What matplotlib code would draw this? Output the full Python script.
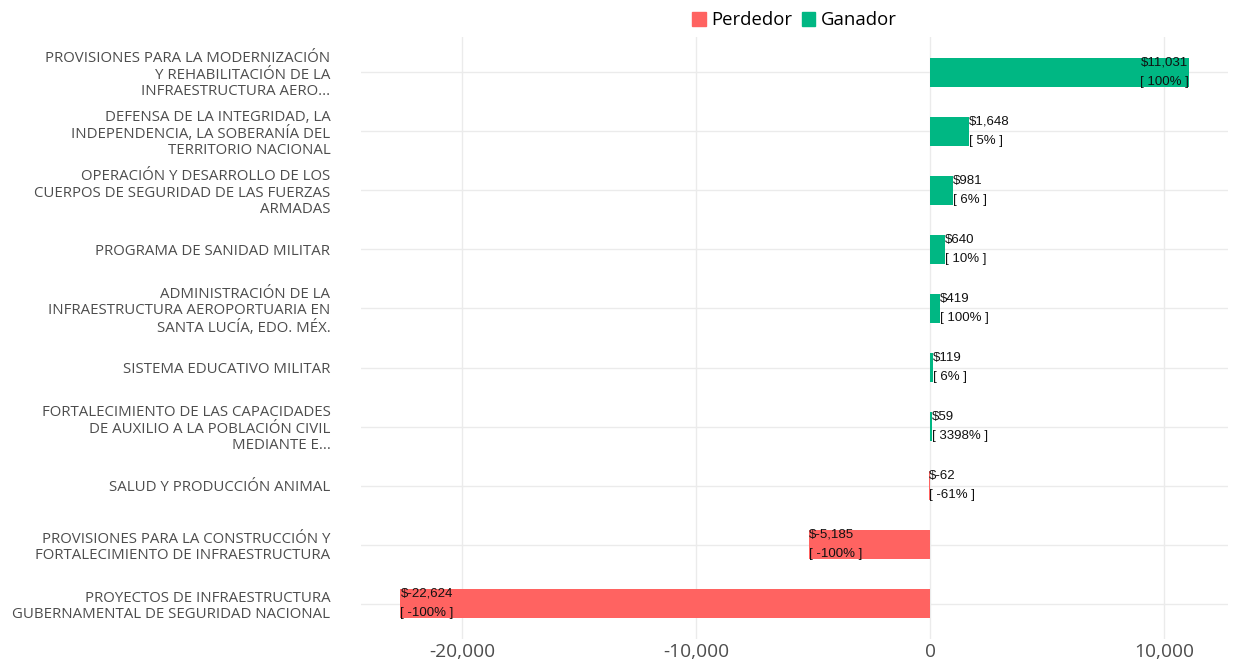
import numpy as np
import matplotlib.pyplot as plt
from matplotlib.patches import Patch

# programas, ordenados de arriba hacia abajo
programas = [
    "PROVISIONES PARA LA MODERNIZACIÓN\nY REHABILITACIÓN DE LA\nINFRAESTRUCTURA AERO...",
    "DEFENSA DE LA INTEGRIDAD, LA\nINDEPENDENCIA, LA SOBERANÍA DEL\nTERRITORIO NACIONAL",
    "OPERACIÓN Y DESARROLLO DE LOS\nCUERPOS DE SEGURIDAD DE LAS FUERZAS\nARMADAS",
    "PROGRAMA DE SANIDAD MILITAR",
    "ADMINISTRACIÓN DE LA\nINFRAESTRUCTURA AEROPORTUARIA EN\nSANTA LUCÍA, EDO. MÉX.",
    "SISTEMA EDUCATIVO MILITAR",
    "FORTALECIMIENTO DE LAS CAPACIDADES\nDE AUXILIO A LA POBLACIÓN CIVIL\nMEDIANTE E...",
    "SALUD Y PRODUCCIÓN ANIMAL",
    "PROVISIONES PARA LA CONSTRUCCIÓN Y\nFORTALECIMIENTO DE INFRAESTRUCTURA",
    "PROYECTOS DE INFRAESTRUCTURA\nGUBERNAMENTAL DE SEGURIDAD NACIONAL",
]
diferencia = [11031, 1648, 981, 640, 419, 119, 59, -62, -5185, -22624]
pct = [100, 5, 6, 10, 100, 6, 3398, -61, -100, -100]

ROJO = "#FF6361"
VERDE = "#00B783"
TXT = "#4d4d4d"

fig = plt.figure(figsize=(12.49, 6.63), dpi=100)
ax = fig.add_axes([361 / 1249, 24 / 663, (1228 - 361) / 1249, (639 - 37) / 663])

y = np.arange(len(programas))
colores = [VERDE if v > 0 else ROJO for v in diferencia]
ax.barh(y, diferencia, height=0.5, color=colores, zorder=2)

for i, (v, p) in enumerate(zip(diferencia, pct)):
    ha = "right" if v == max(diferencia) else "left"
    ax.text(v, i, f"${v:,}\n[ {p}% ]", ha=ha, va="center", fontsize=9.5,
            family="Liberation Sans", color="#111111", linespacing=1.85, zorder=3)

ax.set_yticks(y)
ax.set_yticklabels(programas, fontsize=10.8, color=TXT, family="Open Sans",
                   linespacing=1.12)
ax.set_ylim(len(programas) - 0.4, -0.6)
ax.set_xlim(-24307, 12714)
ax.set_xticks([-20000, -10000, 0, 10000])
ax.set_xticklabels(["-20,000", "-10,000", "0", "10,000"], fontsize=13.8,
                   color=TXT, family="Open Sans")
ax.tick_params(length=0, pad=3)
ax.tick_params(axis="y", pad=22)
ax.grid(True, color="#ebebeb", lw=1, zorder=0)
ax.set_axisbelow(True)
for s in ax.spines.values():
    s.set_visible(False)

handles = [Patch(color=ROJO, label="Perdedor"), Patch(color=VERDE, label="Ganador")]
fig.legend(handles=handles, loc="upper center", bbox_to_anchor=(0.636, 1.008), ncol=2,
           frameon=False, handlelength=0.75, handleheight=0.75, handletextpad=0.3,
           columnspacing=0.5, prop={"family": "Open Sans", "size": 13.3})

fig.savefig("out.png", dpi=100)
